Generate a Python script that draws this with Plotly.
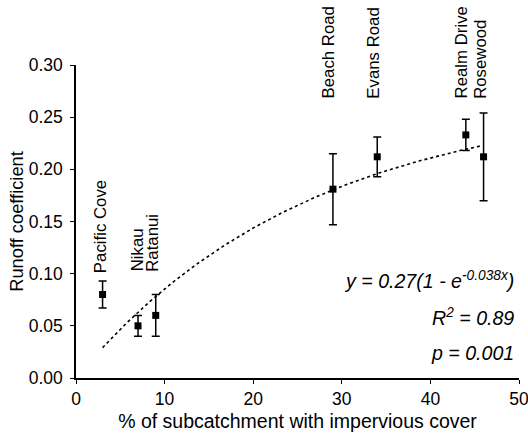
import numpy as np
import plotly.graph_objects as go

# Data
sites = ["Pacific Cove", "Nikau", "Ratanui", "Beach Road", "Evans Road", "Realm Drive", "Rosewood"]
impervious = [3, 7, 9, 29, 34, 44, 46]
runoff = [0.080, 0.050, 0.060, 0.181, 0.212, 0.233, 0.212]
err = [0.013, 0.010, 0.020, 0.034, 0.019, 0.015, 0.042]

# Fit parameters (stated on chart): y = a(1 - e^(-b x))
fit_a = 0.27
fit_b = 0.038
fit_x_range = [3, 45.6]

x_ticks = [0, 10, 20, 30, 40, 50]
y_ticks = [0.00, 0.05, 0.10, 0.15, 0.20, 0.25, 0.30]

FONT = "Liberation Sans, Arial, sans-serif"

fx = np.linspace(fit_x_range[0], fit_x_range[1], 200)
fy = fit_a * (1 - np.exp(-fit_b * fx))

fig = go.Figure()
fig.add_trace(go.Scatter(
    x=fx, y=fy, mode="lines",
    line=dict(color="black", width=1.6, dash="dot"),
    hoverinfo="skip", showlegend=False,
))
fig.add_trace(go.Scatter(
    x=impervious, y=runoff, mode="markers",
    marker=dict(symbol="square", size=7, color="black"),
    error_y=dict(type="data", array=err, visible=True, color="black", thickness=1.5, width=4),
    showlegend=False,
))

# Site labels (rotated), bottom-anchored
label_groups = [
    (["Pacific Cove"], [2.7], 0.099),
    (["Nikau", "Ratanui"], [6.9, 8.7], 0.100),
    (["Beach Road"], [28.55], 0.266),
    (["Evans Road"], [33.6], 0.266),
    (["Realm Drive", "Rosewood"], [43.45, 45.7], 0.266),
]
for names, xs, ybase in label_groups:
    for n, xv in zip(names, xs):
        fig.add_annotation(
            x=xv, y=ybase, text=n, textangle=-90, showarrow=False,
            xanchor="center", yanchor="bottom",
            font=dict(family=FONT, size=16.8, color="black"),
        )

# Equation text
eq_lines = [
    ("<i>y = 0.27(1 - e<sup>-0.038x</sup>)</i>", 0.094),
    ("<i>R<sup>2</sup> = 0.89</i>", 0.058),
    ("<i>p = 0.001</i>", 0.024),
]
for t, yv in eq_lines:
    fig.add_annotation(
        x=49.7, y=yv, text=t, showarrow=False, xanchor="right", yanchor="middle",
        font=dict(family=FONT, size=19.6, color="black"),
    )

fig.update_layout(
    width=528, height=441,
    margin=dict(l=76, r=9, t=65, b=63, autoexpand=False),
    paper_bgcolor="white", plot_bgcolor="white",
    font=dict(family=FONT, size=17.5, color="black"),
)
fig.update_xaxes(
    range=[0, 50], tickvals=x_ticks, ticktext=[str(v) for v in x_ticks],
    showline=True, linecolor="black", linewidth=1.5, showgrid=False, zeroline=False,
    ticks="outside", ticklen=4, tickcolor="black", tickwidth=1,
    ticklabeloverflow="allow", automargin=False,
    title=dict(text="% of subcatchment with impervious cover", font=dict(size=19.5), standoff=7),
    tickfont=dict(size=17.5),
)
fig.update_yaxes(
    range=[0, 0.30], tickvals=y_ticks, ticktext=[f"{v:.2f}" for v in y_ticks],
    showline=True, linecolor="black", linewidth=1.5, showgrid=False, zeroline=False,
    ticks="outside", ticklen=4, tickcolor="black", tickwidth=1,
    ticklabelstandoff=4, automargin=False,
    title=dict(text="Runoff coefficient", font=dict(size=18.3), standoff=0),
    tickfont=dict(size=17.5),
)

fig.write_html("out.html")
